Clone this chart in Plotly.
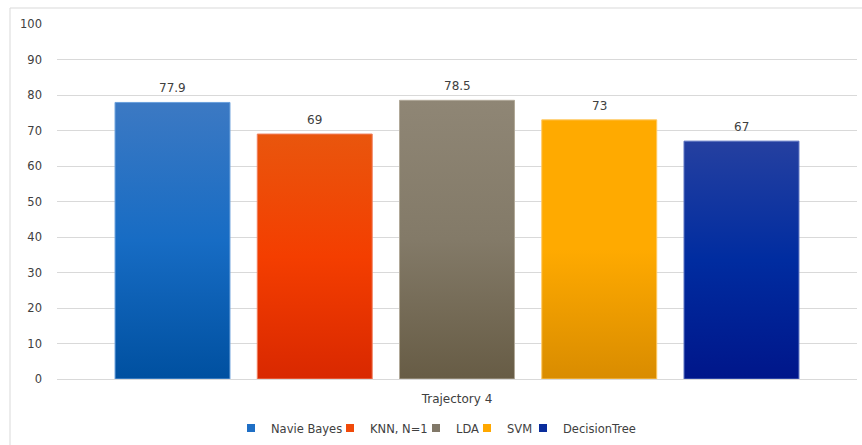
import plotly.graph_objects as go

category = "Trajectory 4"
series = ["Navie Bayes", "KNN, N=1", "LDA", "SVM", "DecisionTree"]
values = [77.9, 69, 78.5, 73, 67]
labels = ["77.9", "69", "78.5", "73", "67"]
y_ticks = [0, 10, 20, 30, 40, 50, 60, 70, 80, 90, 100]

# gradient colours (bottom, middle, top) and outline colour per series
grad_bottom = ["#0050a0", "#d92800", "#675c45", "#d98c00", "#00168a"]
grad_mid = ["#176cc4", "#f43e00", "#837a68", "#ffaa00", "#002ca0"]
grad_top = ["#3c79c3", "#e9560d", "#8f8675", "#ffaa00", "#2540a0"]
outline = ["#6aa0dc", "#f08060", "#b0a898", "#ffc860", "#5870c0"]
legend_color = ["#1f6fc5", "#f04a0a", "#817868", "#ffa800", "#0a2d9c"]
# left edge (px) of each legend entry's text
legend_text_px = [267, 366, 452, 503, 559]

bar_w = 0.808
FONT = "DejaVu Sans"
TXT = "#404040"
PL, PW = 57, 800

fig = go.Figure()
for i, (name, v) in enumerate(zip(series, values)):
    x0, x1 = i - bar_w / 2, i + bar_w / 2
    fig.add_trace(go.Scatter(
        x=[x0, x0, x1, x1, x0], y=[0, v, v, 0, 0],
        mode="lines", fill="toself",
        line=dict(color=outline[i], width=1),
        fillgradient=dict(type="vertical",
                          colorscale=[[0, grad_bottom[i]], [0.5, grad_mid[i]], [1, grad_top[i]]]),
        name=name, showlegend=False, hoverinfo="skip",
    ))
    fig.add_annotation(x=i, y=v, text=labels[i], showarrow=False,
                       yanchor="bottom", yshift=5,
                       font=dict(family=FONT, size=12, color=TXT))

legend_layouts = {}
for i, name in enumerate(series):
    lg = "legend" if i == 0 else f"legend{i + 1}"
    fig.add_trace(go.Scatter(
        x=[None], y=[None], mode="markers", name=name, legend=lg,
        marker=dict(symbol="square", size=8, color=legend_color[i]),
    ))
    legend_layouts[lg] = dict(
        orientation="h", x=(legend_text_px[i] - 36 - PL) / PW, xanchor="left",
        y=(379 - 428) / 355, yanchor="middle", bgcolor="rgba(0,0,0,0)",
        font=dict(family=FONT, size=11.5, color=TXT), itemwidth=30,
    )

# outer chart border (left and top visible)
fig.add_shape(type="rect", xref="paper", yref="paper",
              x0=(10 - PL) / PW, x1=1.2, y0=-0.3, y1=(379 - 8) / 355,
              line=dict(color="#d9d9d9", width=1), layer="below")

fig.update_layout(
    width=862, height=445,
    margin=dict(l=PL, r=5, t=24, b=66, autoexpand=False),
    paper_bgcolor="white", plot_bgcolor="white",
    font=dict(family=FONT, size=12, color=TXT),
    xaxis=dict(range=[-0.812, 4.812], tickvals=[2], ticktext=[category],
               showgrid=False, zeroline=False, showline=False,
               ticks="", ticklabelstandoff=11,
               tickfont=dict(family=FONT, size=12, color=TXT), fixedrange=True),
    yaxis=dict(range=[0, 100], tickvals=y_ticks, showgrid=True,
               gridcolor="#d9d9d9", gridwidth=1, zeroline=True,
               zerolinecolor="#d9d9d9", zerolinewidth=1, showline=False,
               ticks="", ticklabelstandoff=14,
               tickfont=dict(family=FONT, size=11.5, color=TXT), fixedrange=True),
    showlegend=True,
    **legend_layouts,
)

fig.write_html("out.html")
